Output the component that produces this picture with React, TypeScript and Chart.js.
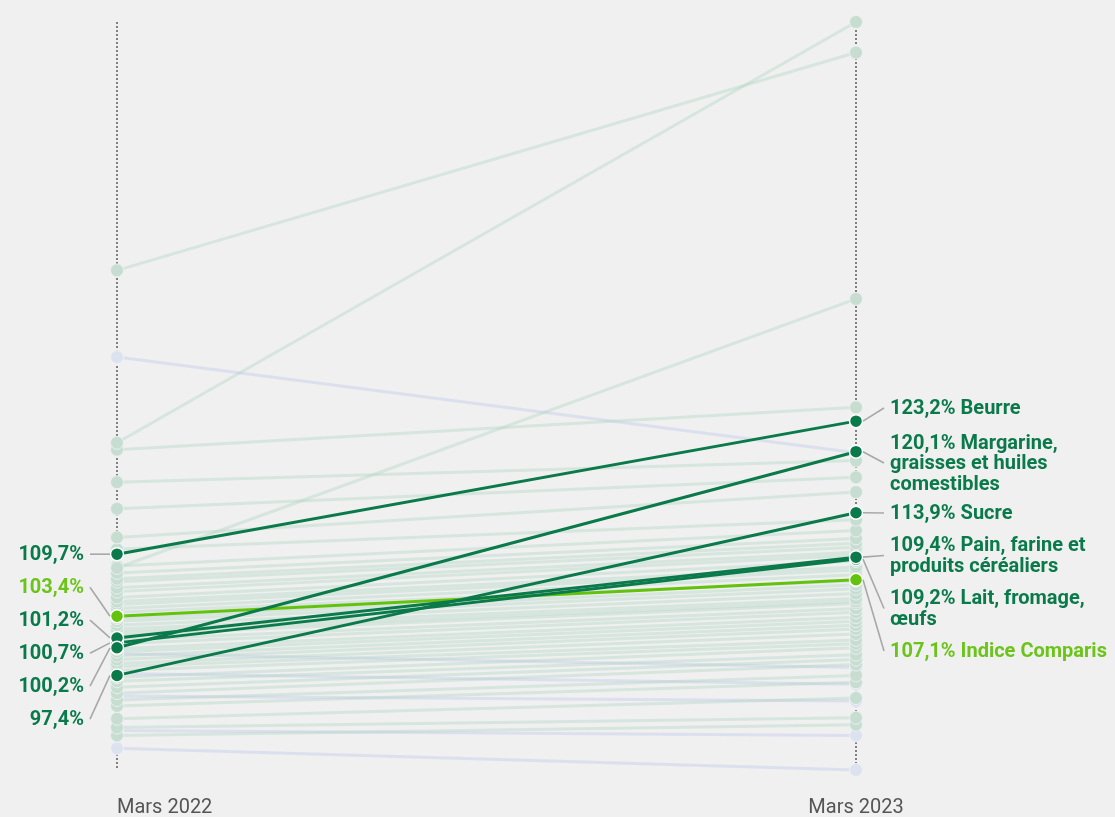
import React, { useEffect, useRef } from "react";
import { Chart, registerables } from "chart.js";

Chart.register(...registerables);

// ---------- DATA ----------
const periods = ["Mars 2022", "Mars 2023"];

// background categories that rose (pale green)
const riseStart = [
  121.0, 138.5, 108.3, 120.3, 117.0, 114.3, 111.4, 110.2, 108.5, 107.8,
  107.2, 106.9, 106.3, 105.9, 105.3, 104.9, 104.6, 104.2, 103.8, 103.2,
  102.9, 102.5, 102.1, 101.8, 101.5, 101.0, 100.6, 100.1, 99.8, 99.4,
  99.0, 98.6, 98.3, 97.9, 97.2, 96.8, 96.2, 95.6, 94.9, 94.3,
  93.0, 92.1, 91.3,
];
const riseEnd = [
  163.7, 160.6, 135.6, 124.6, 119.2, 117.5, 116.0, 113.2, 112.1, 111.3,
  110.8, 110.4, 109.9, 109.6, 109.0, 108.4, 108.1, 107.6, 107.0, 106.6,
  106.2, 105.7, 105.2, 104.9, 104.7, 104.2, 103.8, 103.3, 102.9, 102.5,
  102.1, 101.6, 101.0, 100.6, 100.2, 99.5, 99.0, 98.5, 97.4, 96.7,
  95.1, 93.1, 92.4,
];

// background categories that fell (pale blue)
const fallStart = [129.7, 99.6, 97.6, 95.3, 91.8, 90.0];
const fallEnd = [120.0, 98.2, 96.5, 94.8, 91.3, 87.8];

// highlighted categories
const hlNames = [
  ["Beurre"],
  ["Margarine,", "graisses et huiles", "comestibles"],
  ["Sucre"],
  ["Pain, farine et", "produits céréaliers"],
  ["Lait, fromage,", "œufs"],
  ["Indice Comparis"],
];
const hlStart = [109.7, 100.2, 97.4, 101.2, 100.7, 103.4];
const hlEnd = [123.2, 120.1, 113.9, 109.4, 109.2, 107.1];
const hlIsIndex = [false, false, false, false, false, true];

// ---------- STYLE / LAYOUT ----------
const BG = "#f0f0f0";
const DARK = "#0b7a4b";
const LIME = "#63c20e";
const LIME_TEXT = "#6cc41a";
const PALE_GREEN_LINE = "rgba(178, 214, 196, 0.42)";
const PALE_GREEN_PT = "#c7ddd2";
const PALE_BLUE_LINE = "rgba(206, 212, 236, 0.6)";
const PALE_BLUE_PT = "#dde2ef";
const FONT = "Roboto, 'Noto Sans', sans-serif";
const LEFT_LABEL_STEP = 33;
// vertical centres of the right-hand label blocks (after collision avoidance)
const RIGHT_LABEL_CENTERS = [408, 463, 513, 555.5, 608.5, 651];
const LINE_H = 20.5;

const fmt = (v: number) => v.toFixed(1).replace(".", ",") + "%";

const labelsPlugin = {
  id: "slopeLabels",
  beforeDraw(chart: any) {
    const { ctx } = chart;
    ctx.save();
    ctx.fillStyle = BG;
    ctx.fillRect(0, 0, chart.width, chart.height);
    ctx.restore();
  },
  beforeDatasetsDraw(chart: any) {
    const { ctx, chartArea, scales } = chart;
    const xs = [scales.x.getPixelForValue(0), scales.x.getPixelForValue(1)];
    ctx.save();
    ctx.strokeStyle = "#808080";
    ctx.lineWidth = 2;
    ctx.setLineDash([2, 2]);
    xs.forEach((x) => {
      ctx.beginPath();
      ctx.moveTo(Math.round(x), chartArea.top);
      ctx.lineTo(Math.round(x), chartArea.bottom);
      ctx.stroke();
    });
    ctx.setLineDash([]);
    ctx.fillStyle = "#555555";
    ctx.font = `400 20px ${FONT}`;
    ctx.textBaseline = "middle";
    ctx.textAlign = "left";
    ctx.fillText(periods[0], xs[0], chartArea.bottom + 38);
    ctx.textAlign = "center";
    ctx.fillText(periods[1], xs[1], chartArea.bottom + 38);
    ctx.restore();
  },
  afterDatasetsDraw(chart: any) {
    const { ctx, scales } = chart;
    const xL = scales.x.getPixelForValue(0);
    const xR = scales.x.getPixelForValue(1);
    const y = (v: number) => scales.y.getPixelForValue(v);
    ctx.save();
    ctx.font = `700 20px ${FONT}`;
    ctx.textBaseline = "middle";

    // left labels sorted by start value
    const leftOrder = hlStart.map((_, i) => i).sort((a, b) => hlStart[b] - hlStart[a]);
    let ly = y(hlStart[leftOrder[0]]);
    leftOrder.forEach((i) => {
      const py = y(hlStart[i]);
      ctx.strokeStyle = "#a8a8a8";
      ctx.lineWidth = 1.6;
      ctx.beginPath();
      ctx.moveTo(xL - 27, ly);
      ctx.lineTo(xL - 7, py);
      ctx.stroke();
      ctx.fillStyle = hlIsIndex[i] ? LIME_TEXT : DARK;
      ctx.textAlign = "right";
      ctx.fillText(fmt(hlStart[i]), xL - 33, ly + 1);
      ly += LEFT_LABEL_STEP;
    });

    // right labels sorted by end value
    const rightOrder = hlEnd.map((_, i) => i).sort((a, b) => hlEnd[b] - hlEnd[a]);
    rightOrder.forEach((i, k) => {
      const py = y(hlEnd[i]);
      const c = RIGHT_LABEL_CENTERS[k];
      const lines = hlNames[i].slice();
      lines[0] = fmt(hlEnd[i]) + " " + lines[0];
      ctx.strokeStyle = "#a8a8a8";
      ctx.lineWidth = 1.6;
      ctx.beginPath();
      ctx.moveTo(xR + 7, py);
      ctx.lineTo(xR + 28, c);
      ctx.stroke();
      ctx.fillStyle = hlIsIndex[i] ? LIME_TEXT : DARK;
      ctx.textAlign = "left";
      const top = c - ((lines.length - 1) * LINE_H) / 2;
      lines.forEach((t, j) => ctx.fillText(t, xR + 34, top + j * LINE_H + 1));
    });
    ctx.restore();
  },
};

export default function App() {
  const ref = useRef<HTMLCanvasElement | null>(null);
  useEffect(() => {
    if (!ref.current) return;
    const mk = (a: number, b: number) => [
      { x: 0, y: a },
      { x: 1, y: b },
    ];
    const datasets: any[] = [];
    riseStart.forEach((s, i) =>
      datasets.push({
        data: mk(s, riseEnd[i]),
        borderColor: PALE_GREEN_LINE,
        borderWidth: 3,
        pointRadius: 6.5,
        pointBackgroundColor: PALE_GREEN_PT,
        pointBorderColor: "rgba(235,242,238,0.9)",
        pointBorderWidth: 1,
        order: 3,
        clip: false,
      })
    );
    fallStart.forEach((s, i) =>
      datasets.push({
        data: mk(s, fallEnd[i]),
        borderColor: PALE_BLUE_LINE,
        borderWidth: 3,
        pointRadius: 6.5,
        pointBackgroundColor: PALE_BLUE_PT,
        pointBorderColor: "rgba(240,242,248,0.9)",
        pointBorderWidth: 1,
        order: 4,
        clip: false,
      })
    );
    hlStart.forEach((s, i) =>
      datasets.push({
        data: mk(s, hlEnd[i]),
        borderColor: hlIsIndex[i] ? LIME : DARK,
        borderWidth: 3,
        pointRadius: 6.5,
        pointBackgroundColor: hlIsIndex[i] ? LIME : DARK,
        pointBorderColor: "#ffffff",
        pointBorderWidth: 1.5,
        order: hlIsIndex[i] ? 1 : 0,
        clip: false,
      })
    );
    const chart = new Chart(ref.current, {
      type: "line",
      data: { datasets },
      options: {
        animation: false,
        responsive: false,
        events: [],
        layout: { padding: { left: 117, right: 259, top: 22, bottom: 47 } },
        scales: {
          x: { type: "linear", min: 0, max: 1, display: false },
          y: { type: "linear", min: 87.8, max: 163.7, display: false },
        },
        plugins: { legend: { display: false }, tooltip: { enabled: false } },
      },
      plugins: [labelsPlugin],
    });
    return () => chart.destroy();
  }, []);
  return (
    <div style={{ position: "absolute", left: 0, top: 0, width: 1115, height: 817, background: BG }}>
      <canvas ref={ref} width={1115} height={817} style={{ display: "block" }} />
    </div>
  );
}
